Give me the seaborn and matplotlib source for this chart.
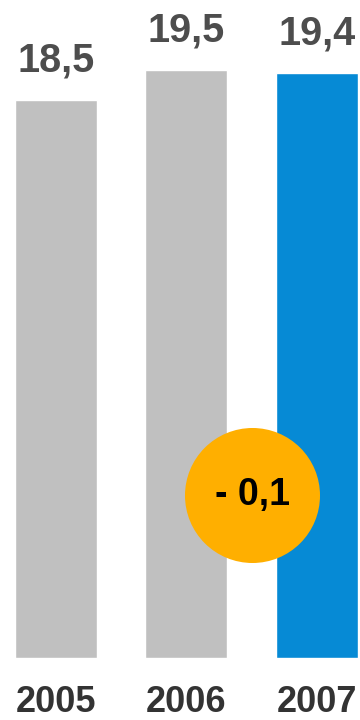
import matplotlib
matplotlib.use("Agg")
import matplotlib.pyplot as plt
import seaborn as sns
import pandas as pd

# --- données ---
annees = ["2005", "2006", "2007"]
valeurs = [18.5, 19.5, 19.4]
couleurs = ["#C0C0C0", "#C0C0C0", "#068AD5"]

df = pd.DataFrame({"annee": annees, "valeur": valeurs})

sns.set_style("white")
plt.rcParams["font.family"] = ["Liberation Sans", "DejaVu Sans"]

fig = plt.figure(figsize=(3.6, 7.2), dpi=100)
ax = fig.add_axes([0, 62 / 720, 1, 658 / 720])

sns.barplot(data=df, x="annee", y="valeur", hue="annee", palette=couleurs,
            width=0.628, legend=False, ax=ax, saturation=1)

ax.set_xlim(-0.429, 2.33)
ax.set_ylim(0, 21.82)
ax.axis("off")

# valeurs au-dessus des barres
for i, v in enumerate(valeurs):
    ax.text(i, v + 0.94, f"{v:.1f}".replace(".", ","), ha="center", va="baseline",
            fontsize=28.5, fontweight="bold", color="#4D4D4D")

# années sous les barres
for i, a in enumerate(annees):
    ax.text(i, -1.78, a, ha="center", va="baseline", fontsize=26,
            fontweight="bold", color="#333333", clip_on=False)

# pastille de variation
ecart = valeurs[2] - valeurs[1]
signe = "-" if ecart < 0 else "+"
ax.scatter([1.506], [5.39], s=9450, color="#FFAF00", zorder=5, linewidths=0)
ax.text(1.506, 5.39, f"{signe} {abs(ecart):.1f}".replace(".", ","), ha="center",
        va="center", fontsize=27, fontweight="bold", color="black", zorder=6)

fig.savefig("out.png", dpi=100)
